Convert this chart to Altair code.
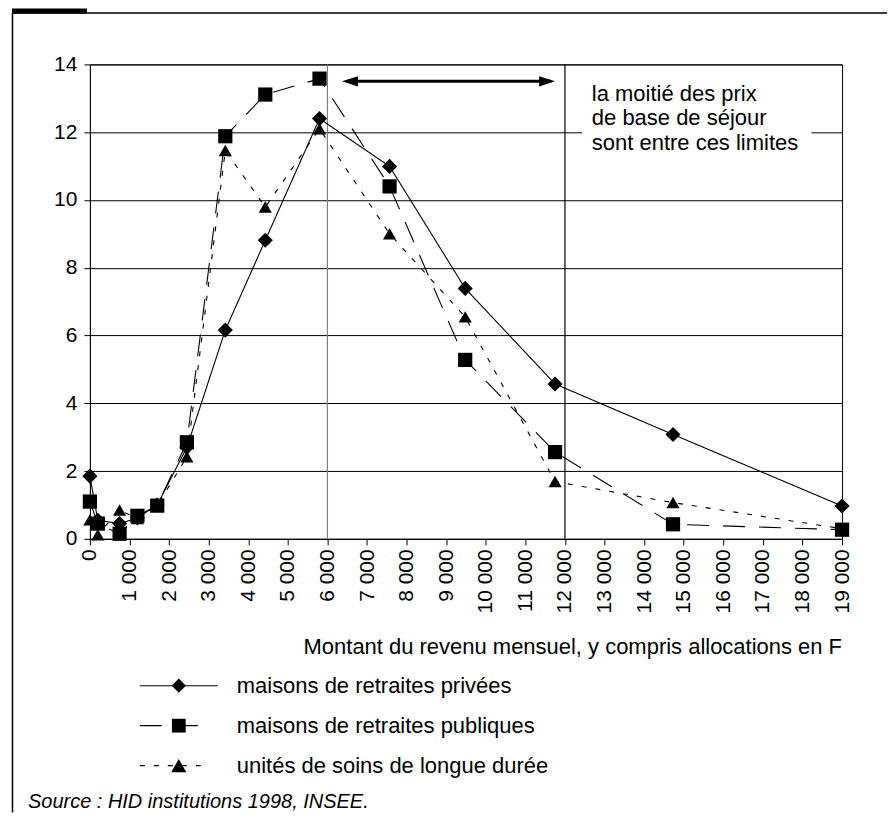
import altair as alt
import pandas as pd

# ---------------- data ----------------
revenu = [0, 200, 750, 1200, 1700, 2450, 3420, 4430, 5800, 7570, 9480, 11750, 14730, 19000]
privees = [1.85, 0.55, 0.45, 0.62, 1.0, 2.7, 6.16, 8.81, 12.4, 10.99, 7.39, 4.57, 3.08, 0.97]
publiques = [1.1, 0.45, 0.15, 0.68, 0.98, 2.85, 11.88, 13.11, 13.58, 10.4, 5.28, 2.56, 0.43, 0.27]
usld = [0.56, 0.12, 0.85, 0.6, 0.98, 2.42, 11.46, 9.79, 12.1, 9.0, 6.55, 1.69, 1.07, 0.3]

series_names = ["maisons de retraites privées",
                "maisons de retraites publiques",
                "unités de soins de longue durée"]
y_ticks = [0, 2, 4, 6, 8, 10, 12, 14]
x_ticks = [0, 1000, 2000, 3000, 4000, 5000, 6000, 7000, 8000, 9000, 10000,
           11000, 12000, 13000, 14000, 15000, 16000, 17000, 18000, 19000]
limites = [6000, 12000]
annotation_lines = ["la moitié des prix", "de base de séjour", "sont entre ces limites"]
x_title = "Montant du revenu mensuel, y compris allocations en F"
source_text = "Source : HID institutions 1998, INSEE."

# ---------------- tables ----------------
rows = []
for name, vals in zip(series_names, [privees, publiques, usld]):
    for xv, yv in zip(revenu, vals):
        rows.append({"x": xv, "y": yv, "serie": name})
df = pd.DataFrame(rows)

FONT = "Liberation Sans"
W, H = 753, 475
TXT = 22

x_scale = alt.Scale(domain=[0, 19000], nice=False, zero=False)
y_scale = alt.Scale(domain=[0, 14], nice=False)
x_axis = alt.Axis(values=x_ticks, labelExpr="replace(format(datum.value, ','), ',', ' ')",
                  labelAngle=270, labelFontSize=21, labelPadding=4, tickSize=6,
                  grid=False, title=None, labelOverlap=False)
y_axis = alt.Axis(values=y_ticks, labelFontSize=21, labelPadding=7, tickSize=6,
                  grid=True, title=None)


def X(field="x"):
    return alt.X(f"{field}:Q", scale=x_scale, axis=x_axis)


def Y(field="y"):
    return alt.Y(f"{field}:Q", scale=y_scale, axis=y_axis)


dash_scale = alt.Scale(domain=series_names, range=[[1, 0], [22, 14], [5, 9]])
shape_scale = alt.Scale(domain=series_names, range=["diamond", "square", "triangle-up"])
size_scale = alt.Scale(domain=series_names, range=[230, 175, 240])

lines = alt.Chart(df).mark_line(color="black", strokeWidth=1.1).encode(
    x=X(), y=Y(),
    strokeDash=alt.StrokeDash("serie:N", scale=dash_scale, legend=None),
    detail="serie:N",
)
points = alt.Chart(df).mark_point(filled=True, color="black", opacity=1).encode(
    x=X(), y=Y(),
    shape=alt.Shape("serie:N", scale=shape_scale, legend=None),
    size=alt.Size("serie:N", scale=size_scale, legend=None),
)

# vertical limit lines
lim_df = pd.DataFrame({"x": limites, "c": ["#808080", "black"]})
vlines = alt.Chart(lim_df).mark_rule(strokeWidth=1.2).encode(
    x=X(), color=alt.Color("c:N", scale=None)
)

# double arrow
arrow_df = pd.DataFrame({"x": [6500], "x2": [11650], "y": [13.5]})
arrow_line = alt.Chart(arrow_df).mark_rule(color="black", strokeWidth=3).encode(
    x=X(), x2="x2:Q", y=Y()
)
head_l = alt.Chart(pd.DataFrame({"x": [6570], "y": [13.5]})).mark_point(
    filled=True, color="black", opacity=1, size=256, shape="M1,-0.65L-1,0L1,0.65Z"
).encode(x=X(), y=Y())
head_r = alt.Chart(pd.DataFrame({"x": [11550], "y": [13.5]})).mark_point(
    filled=True, color="black", opacity=1, size=256, shape="M-1,-0.65L1,0L-1,0.65Z"
).encode(x=X(), y=Y())

# annotation box + text
box_df = pd.DataFrame({"x": [12430], "x2": [18225], "y": [11.32], "y2": [13.82]})
box = alt.Chart(box_df).mark_rect(color="white").encode(
    x=X(), x2="x2:Q", y=Y(), y2="y2:Q"
)
ann_df = pd.DataFrame({"x": [12680] * 3, "y": [13.14, 12.41, 11.67], "t": annotation_lines})
ann = alt.Chart(ann_df).mark_text(align="left", baseline="middle", fontSize=TXT,
                                  font=FONT, color="black").encode(
    x=X(), y=Y(), text="t:N"
)

# x axis title
one = pd.DataFrame({"a": [0]})
xtitle = alt.Chart(one).mark_text(align="right", baseline="middle", fontSize=TXT,
                                  font=FONT, color="black", text=x_title).encode(
    x=alt.value(W), y=alt.value(583)
)

# legend (drawn by hand, pixel positions)
legend_layers = []
leg_y = [622, 662, 702]
leg_dash = [[1, 0], [22, 14], [5, 9]]
leg_end = [128, 115, 113]
leg_shape = ["diamond", "square", "triangle-up"]
leg_size = [200, 190, 230]
for i, name in enumerate(series_names):
    d = pd.DataFrame({"t": [name]})
    legend_layers.append(
        alt.Chart(d).mark_rule(color="black", strokeWidth=1.1, strokeDash=leg_dash[i]).encode(
            x=alt.value(50), x2=alt.value(leg_end[i]), y=alt.value(leg_y[i]))
    )
    legend_layers.append(
        alt.Chart(d).mark_point(filled=True, color="black", opacity=1, size=leg_size[i],
                                shape=leg_shape[i]).encode(
            x=alt.value(89), y=alt.value(leg_y[i]))
    )
    legend_layers.append(
        alt.Chart(d).mark_text(align="left", baseline="middle", fontSize=TXT, font=FONT,
                               color="black").encode(
            x=alt.value(147), y=alt.value(leg_y[i]), text="t:N")
    )

# source
source = alt.Chart(one).mark_text(align="left", baseline="middle", fontSize=20, font=FONT,
                                  fontStyle="italic", color="black", text=source_text).encode(
    x=alt.value(-62), y=alt.value(738)
)

# outer frame
frame_top = alt.Chart(one).mark_rule(color="black", strokeWidth=1.5).encode(
    x=alt.value(-78), x2=alt.value(798), y=alt.value(-51.5)
)
frame_left = alt.Chart(one).mark_rule(color="black", strokeWidth=1.5).encode(
    x=alt.value(-77.5), y=alt.value(-52), y2=alt.value(749)
)
black_tab = alt.Chart(one).mark_rect(color="black").encode(
    x=alt.value(-78), x2=alt.value(-3), y=alt.value(-56), y2=alt.value(-51)
)

chart = alt.layer(
    vlines, box, arrow_line, head_l, head_r, lines, points, ann, xtitle, source,
    frame_top, frame_left, black_tab, *legend_layers
).properties(
    width=W, height=H,
    autosize=alt.AutoSizeParams(type="none"),
    padding={"left": 82, "top": 56, "right": 45, "bottom": 274},
).configure(
    font=FONT,
).configure_view(
    stroke="black", strokeWidth=1
).configure_axis(
    labelColor="black", tickColor="black", domainColor="black",
    gridColor="black", gridOpacity=1, gridWidth=1, domainWidth=1, tickWidth=1,
    labelFont=FONT,
)

chart.save("out.html", embed_options={"renderer": "svg", "actions": False})
